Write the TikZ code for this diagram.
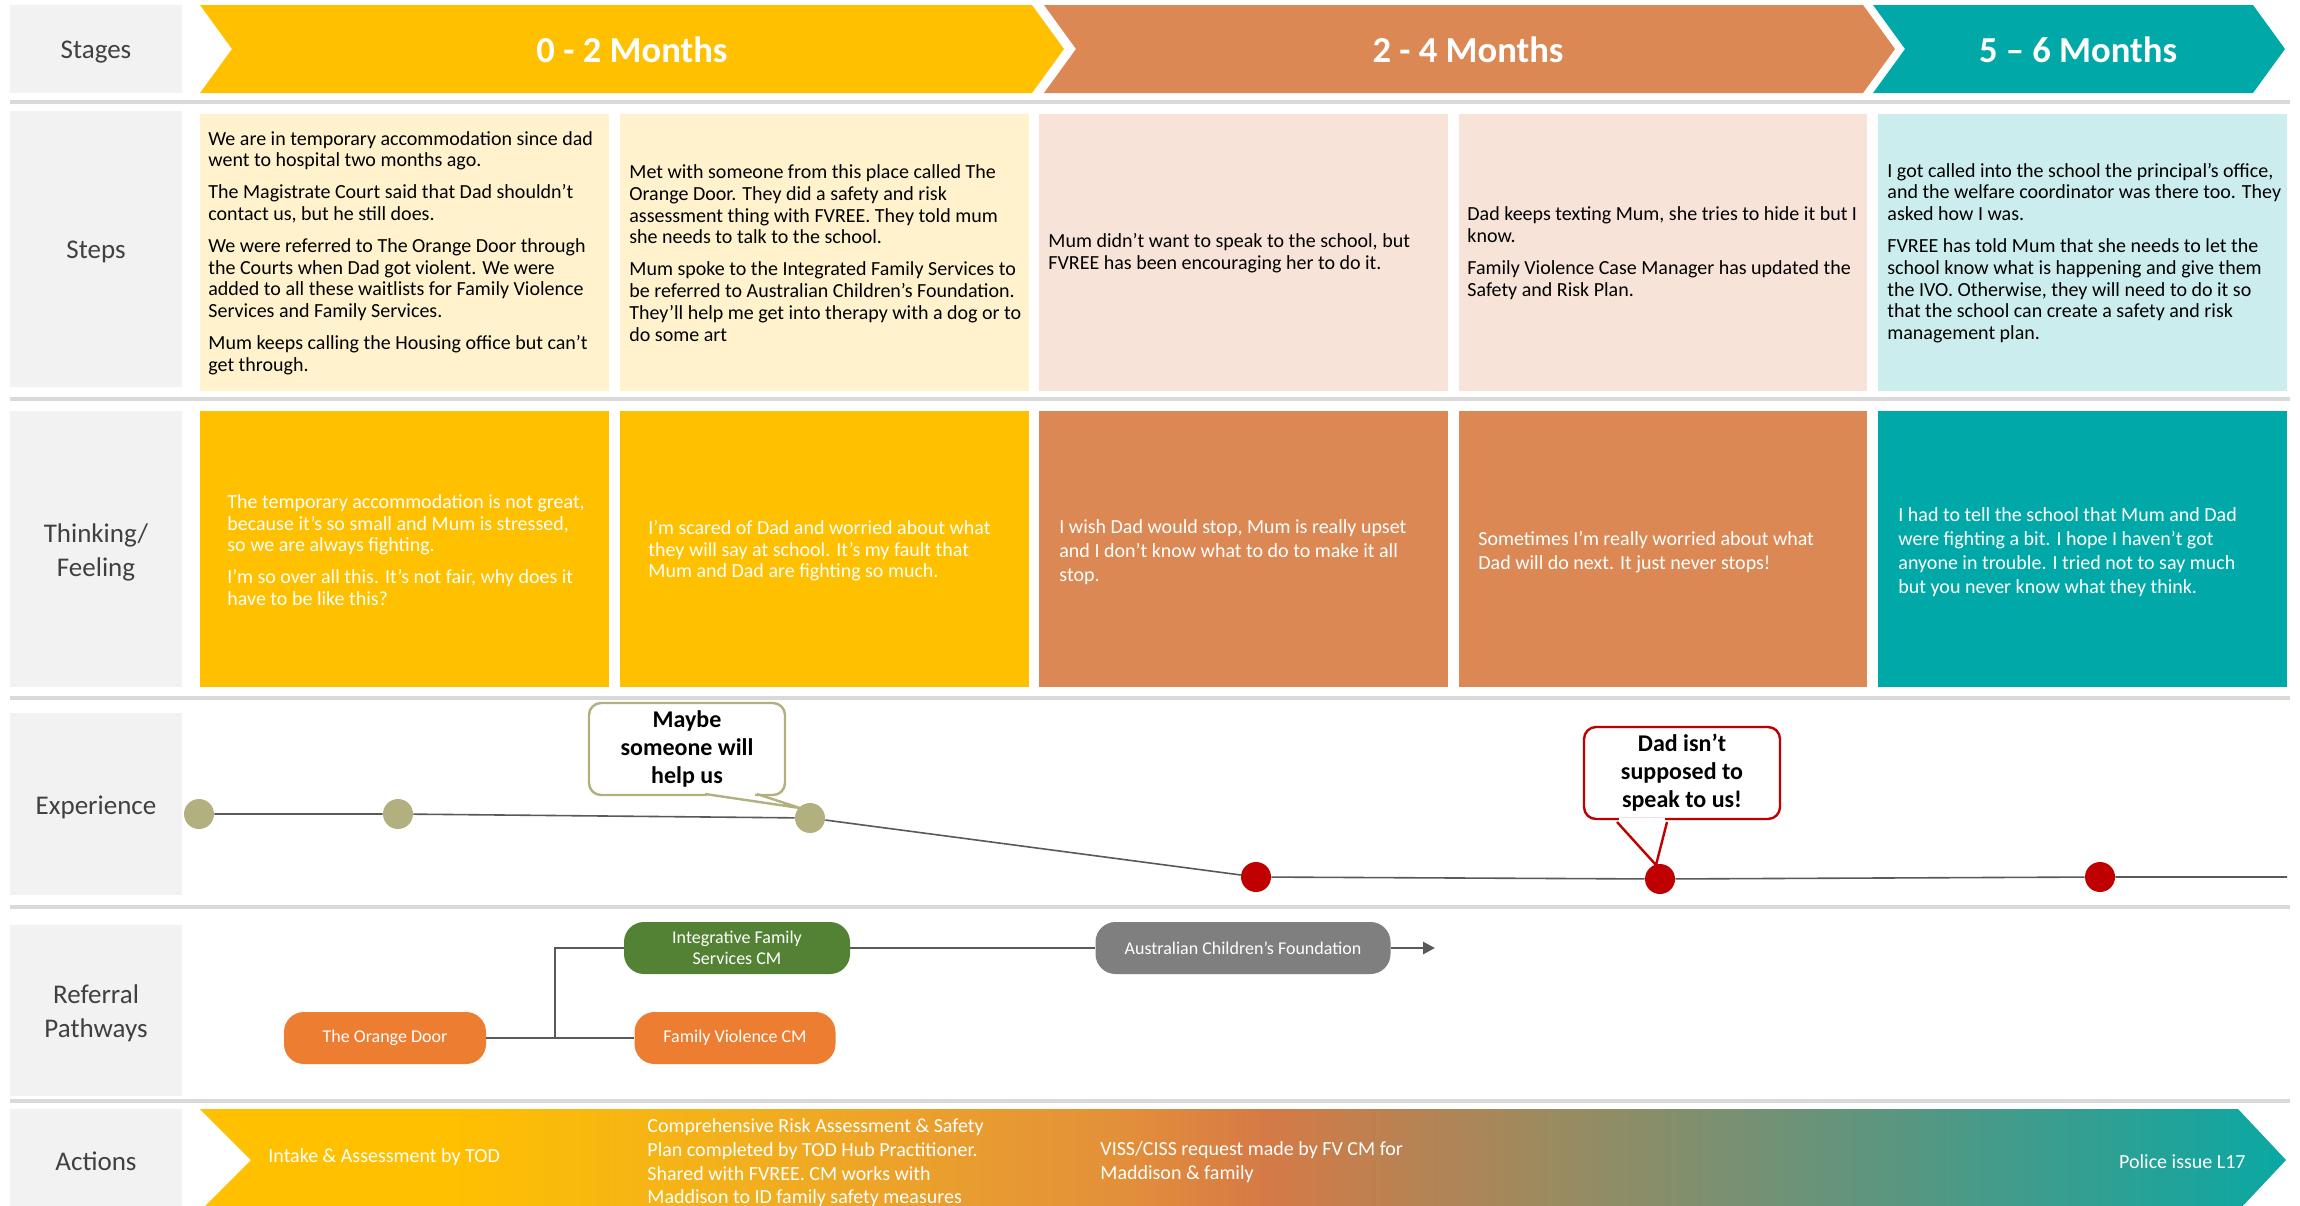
\documentclass[tikz,border=0pt]{standalone}
\usepackage{fontspec}
\setmainfont{Carlito}
\usetikzlibrary{arrows.meta}
\definecolor{cYel}{HTML}{FFC000}
\definecolor{cOra}{HTML}{DB8854}
\definecolor{cTeal}{HTML}{00A9A8}
\definecolor{cPY}{HTML}{FFF2CC}
\definecolor{cPO}{HTML}{F7E3D8}
\definecolor{cPT}{HTML}{CCEDED}
\definecolor{labgray}{HTML}{F2F2F2}
\definecolor{labtext}{HTML}{404040}
\definecolor{sepgray}{HTML}{D9D9D9}
\definecolor{olivec}{HTML}{B2B07F}
\definecolor{redc}{HTML}{C00000}
\definecolor{lineg}{HTML}{595959}
\definecolor{pillO}{HTML}{ED7D31}
\definecolor{pillG}{HTML}{548235}
\definecolor{pillGr}{HTML}{7F7F7F}
\definecolor{aA}{HTML}{F2AF1E}
\definecolor{aB}{HTML}{E3903A}
\definecolor{aC}{HTML}{D57A46}
\definecolor{aD}{HTML}{9A8B60}
\definecolor{aE}{HTML}{63947C}
\definecolor{aF}{HTML}{0AA8A4}
\pgfdeclarehorizontalshading{actshade}{100bp}{color(0bp)=(cYel); color(25bp)=(cYel); color(31bp)=(cYel); color(38bp)=(aA); color(47bp)=(aB); color(50.5bp)=(aC); color(57.5bp)=(aD); color(64.5bp)=(aE); color(75bp)=(aF); color(100bp)=(aF)}
\begin{document}
\begin{tikzpicture}[x=0.5pt,y=-0.5pt,
  labtxt/.style={text=labtext,font=\fontsize{13.5}{17}\selectfont,align=center,inner sep=0},
  sepline/.style={draw=sepgray,line width=2pt},
  stagetxt/.style={text=white,font=\fontsize{18.3}{20}\selectfont\bfseries,inner sep=0},
  steptxt/.style={anchor=west,align=left,inner sep=0,text=black,font=\fontsize{10}{10.9}\selectfont},
  thinktxt/.style={anchor=west,align=left,inner sep=0,text=white,font=\fontsize{10}{10.8}\selectfont},
  thinktxtb/.style={anchor=west,align=left,inner sep=0,text=white,font=\fontsize{10}{12}\selectfont},
  dotO/.style={circle,fill=olivec,minimum size=15pt,inner sep=0},
  dotR/.style={circle,fill=redc,minimum size=15pt,inner sep=0},
  expline/.style={draw=lineg,line width=0.8pt},
  cbox/.style={rounded corners=6pt,fill=white,line width=1.2pt,minimum width=98pt,minimum height=46pt,align=center,inner sep=0,font=\fontsize{12}{14}\selectfont\bfseries},
  pill/.style={rounded corners=10pt,inner sep=0,text=white,align=center,minimum height=26pt,font=\fontsize{9}{10.5}\selectfont},
  refline/.style={draw=lineg,line width=0.8pt},
  acttxt/.style={align=left,inner sep=0,text=white,font=\fontsize{10}{11.8}\selectfont}]
\useasboundingbox (0,0) rectangle (2300,1205);
\clip (0,0) rectangle (2300,1205);
\fill[white] (0,0) rectangle (2300,1205);

% ---- row labels
\fill[labgray] (10,5) rectangle (182,93);
\node[labtxt] (lStages) at (96,52) {Stages};
\fill[labgray] (10,111) rectangle (182,387);
\node[labtxt] (lSteps) at (96,252) {Steps};
\fill[labgray] (10,411) rectangle (182,687);
\node[labtxt] (lThink) at (96,552) {Thinking/\\Feeling};
\fill[labgray] (10,713) rectangle (182,895);
\node[labtxt] (lExp) at (96,807) {Experience};
\fill[labgray] (10,925) rectangle (182,1096);
\node[labtxt] (lRef) at (96,1013) {Referral\\Pathways};
\fill[labgray] (10,1109) rectangle (182,1215);
\node[labtxt] (lAct) at (96,1161) {Actions};

% ---- separators
\foreach \yy in {102,399,698,907,1101}{\draw[sepline] (10,\yy) -- (2290,\yy);}

% ---- stages
\fill[cYel] (200,5) -- (1032,5) -- (1064,49) -- (1032,93) -- (200,93) -- (232,49) -- cycle;
\fill[cOra] (1044,5) -- (1863,5) -- (1895,49) -- (1863,93) -- (1044,93) -- (1076,49) -- cycle;
\fill[cTeal] (1873,5) -- (2253,5) -- (2285,49) -- (2253,93) -- (1873,93) -- (1905,49) -- cycle;
\node[stagetxt] (s1) at (632,50) {0 - 2 Months};
\node[stagetxt] (s2) at (1468,50) {2 - 4 Months};
\node[stagetxt] (s3) at (2078,50) {5 – 6 Months};

% ---- steps cards
\fill[cPY] (200,114) rectangle (609,391);
\fill[cPY] (620,114) rectangle (1029,391);
\fill[cPO] (1039,114) rectangle (1448,391);
\fill[cPO] (1459,114) rectangle (1867,391);
\fill[cPT] (1878,114) rectangle (2287,391);
\node[steptxt] (sc1) at (208,253) {We are in temporary accommodation since dad\\went to hospital two months ago.\\[5pt]The Magistrate Court said that Dad shouldn't\\contact us, but he still does.\\[5pt]We were referred to The Orange Door through\\the Courts when Dad got violent. We were\\added to all these waitlists for Family Violence\\Services and Family Services.\\[5pt]Mum keeps calling the Housing office but can't\\get through.};
\node[steptxt] (sc2) at (629,253) {Met with someone from this place called The\\Orange Door. They did a safety and risk\\assessment thing with FVREE. They told mum\\she needs to talk to the school.\\[5pt]Mum spoke to the Integrated Family Services to\\be referred to Australian Children's Foundation.\\They'll help me get into therapy with a dog or to\\do some art};
\node[steptxt] (sc3) at (1048,253) {Mum didn't want to speak to the school, but\\FVREE has been encouraging her to do it.};
\node[steptxt] (sc4) at (1467,253) {Dad keeps texting Mum, she tries to hide it but I\\know.\\[5pt]Family Violence Case Manager has updated the\\Safety and Risk Plan.};
\node[steptxt] (sc5) at (1887,253) {I got called into the school the principal’s office,\\and the welfare coordinator was there too. They\\asked how I was.\\[5pt]FVREE has told Mum that she needs to let the\\school know what is happening and give them\\the IVO. Otherwise, they will need to do it so\\that the school can create a safety and risk\\management plan.};

% ---- thinking cards
\fill[cYel] (200,411) rectangle (609,687);
\fill[cYel] (620,411) rectangle (1029,687);
\fill[cOra] (1039,411) rectangle (1448,687);
\fill[cOra] (1459,411) rectangle (1867,687);
\fill[cTeal] (1878,411) rectangle (2287,687);
\node[thinktxt] (tc1) at (227,550) {The temporary accommodation is not great,\\because it's so small and Mum is stressed,\\so we are always fighting.\\[5pt]I’m so over all this. It’s not fair, why does it\\have to be like this?};
\node[thinktxt] (tc2) at (648,551) {I'm scared of Dad and worried about what\\they will say at school. It's my fault that\\Mum and Dad are fighting so much.};
\node[thinktxtb] (tc3) at (1059,552) {I wish Dad would stop, Mum is really upset\\and I don’t know what to do to make it all\\stop.};
\node[thinktxtb] (tc4) at (1478,552) {Sometimes I’m really worried about what\\Dad will do next. It just never stops!};
\node[thinktxtb] (tc5) at (1898,552) {I had to tell the school that Mum and Dad\\were fighting a bit. I hope I haven’t got\\anyone in trouble. I tried not to say much\\but you never know what they think.};

% ---- experience
\node[dotO] (e1) at (199,814) {};
\node[dotO] (e2) at (398,814) {};
\node[dotO] (e3) at (810,818) {};
\node[dotR] (e4) at (1256,877) {};
\node[dotR] (e5) at (1660,879) {};
\node[dotR] (e6) at (2100,877) {};
\coordinate (eend) at (2287,877);
\draw[expline] (e1) -- (e2) -- (e3) -- (e4) -- (e5) -- (e6) -- (eend);

\node[cbox,draw=olivec] (cb1) at (687,749) {Maybe\\someone will\\help us};
\coordinate (t1) at (800,808);
\fill[white] (707,790) rectangle (755,797);
\draw[olivec,line width=1.2pt,line join=miter] (705,794) -- (t1) -- (757,794);

\node[cbox,draw=redc] (cb2) at (1682,773) {Dad isn’t\\supposed to\\speak to us!};
\coordinate (t2) at (1656,865);
\fill[white] (1619,818) rectangle (1665,825);
\draw[redc,line width=1.2pt,line join=miter] (1617,822) -- (t2) -- (1667,822);

% ---- referral pathways
\node[pill,fill=pillO,minimum width=101pt] (tod) at (385,1038) {The Orange Door};
\node[pill,fill=pillG,minimum width=113pt] (ifs) at (737,948) {Integrative Family\\Services CM};
\node[pill,fill=pillO,minimum width=100.5pt] (fv) at (735,1038) {Family Violence CM};
\node[pill,fill=pillGr,minimum width=147.5pt] (acf) at (1243,948) {Australian Children’s Foundation};
\coordinate (jn) at (555,1038);
\coordinate (aend) at (1435,948);
\draw[refline] (tod.east) -- (jn) |- (ifs.west);
\draw[refline] (tod.east) -- (fv.west);
\draw[refline] (ifs.east) -- (acf.west);
\draw[draw=lineg,line width=1.4pt,-{Triangle[length=6pt,width=6pt]}] (acf.east) -- (aend);

% ---- actions
\shade[shading=actshade] (200,1109) -- (2238,1109) -- (2286,1160) -- (2238,1211) -- (200,1211) -- (251,1160) -- cycle;
\node[acttxt,anchor=west] (a1) at (268,1157) {Intake \& Assessment by TOD};
\node[acttxt,anchor=west] (a2) at (647,1163) {Comprehensive Risk Assessment \& Safety\\Plan completed by TOD Hub Practitioner.\\Shared with FVREE. CM works with\\Maddison to ID family safety measures};
\node[acttxt,anchor=west] (a3) at (1100,1162) {VISS/CISS request made by FV CM for\\Maddison \& family};
\node[acttxt,anchor=east] (a4) at (2246,1162) {Police issue L17};
\end{tikzpicture}
\end{document}
